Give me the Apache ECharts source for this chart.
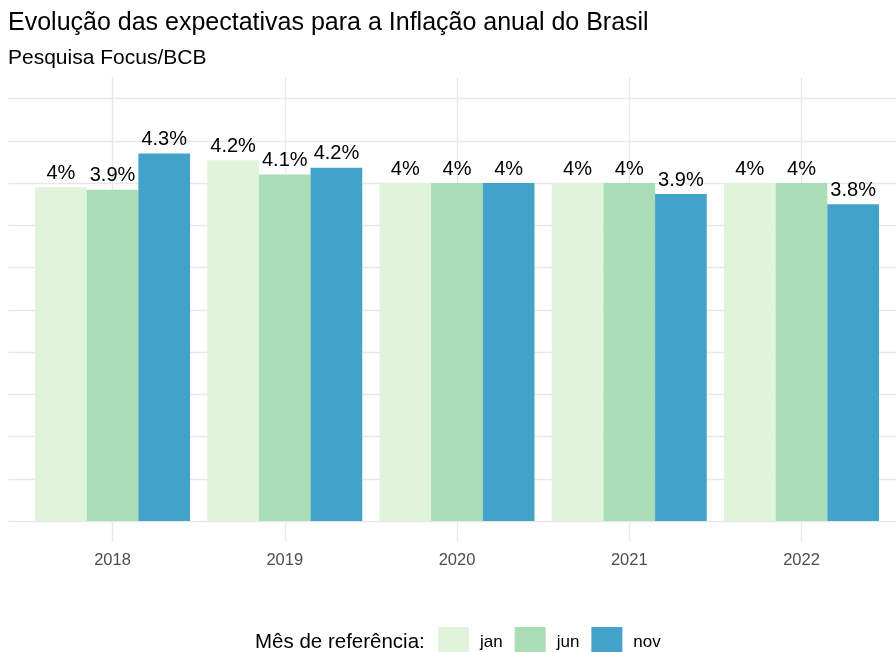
<!DOCTYPE html>
<html>
<head>
<meta charset="utf-8">
<script src="https://cdn.jsdelivr.net/npm/echarts@6/dist/echarts.min.js"></script>
<style>
  html, body { margin: 0; padding: 0; background: #fff; }
  #chart { width: 896px; height: 652px; }
</style>
</head>
<body>
<div id="chart"></div>
<script>
const years = ['2018', '2019', '2020', '2021', '2022'];
const janValues = [3.95, 4.27, 4.00, 4.00, 4.00];
const junValues = [3.92, 4.10, 4.00, 4.00, 4.00];
const novValues = [4.35, 4.18, 4.00, 3.87, 3.75];
const janLabels = ['4%', '4.2%', '4%', '4%', '4%'];
const junLabels = ['3.9%', '4.1%', '4%', '4%', '4%'];
const novLabels = ['4.3%', '4.2%', '4%', '3.9%', '3.8%'];

const font = '"Liberation Sans", Arial, sans-serif';
const gridColor = '#e8e8e8';

const chart = echarts.init(document.getElementById('chart'));

function barSeries(name, data, labels, color) {
	return {
		type: 'bar',
		name: name,
		data: data,
		xAxisIndex: 1,
		yAxisIndex: 1,
		barGap: '0%',
		barCategoryGap: '10%',
		itemStyle: { color: color },
		emphasis: { disabled: true },
		label: {
			show: true,
			position: 'top',
			distance: 4,
			fontFamily: font,
			fontSize: 20,
			color: '#000',
			formatter: p => labels[p.dataIndex]
		}
	};
}

chart.setOption({
	animation: false,
	title: {
		text: 'Evolução das expectativas para a Inflação anual do Brasil',
		subtext: 'Pesquisa Focus/BCB',
		left: 8,
		top: 11,
		padding: 0,
		itemGap: 12,
		textStyle: { fontFamily: font, fontSize: 25, fontWeight: 'normal', color: '#000' },
		subtextStyle: { fontFamily: font, fontSize: 21, color: '#000' }
	},
	graphic: [{
		type: 'text',
		left: 255,
		top: 632,
		style: {
			text: 'Mês de referência:',
			fontFamily: font,
			fontSize: 20.5,
			fill: '#000'
		}
	}],
	legend: {
		left: 438,
		top: 627,
		padding: 0,
		itemWidth: 31,
		itemHeight: 31,
		itemGap: 12,
		icon: 'rect',
		data: ['jan', 'jun', 'nov'],
		textStyle: { fontFamily: font, fontSize: 17, color: '#000', padding: [0, 0, 0, 6] }
	},
	grid: [
		{ left: 8.5, right: -7.5, top: 77.4, bottom: 131 },
		{ left: 26.4, right: 8.4, top: 77.4, bottom: 109.9 }
	],
	xAxis: [
		{ type: 'value', gridIndex: 0, show: false, min: 0, max: 1 },
		{
			type: 'category',
			gridIndex: 1,
			data: years,
			axisLine: { show: false, onZero: false },
			axisTick: {
				show: true,
				alignWithLabel: true,
				inside: true,
				length: 465,
				lineStyle: { color: gridColor, width: 1.4 }
			},
			axisLabel: { fontFamily: font, fontSize: 16.5, color: '#4d4d4d', margin: 10 },
			splitLine: { show: false }
		}
	],
	yAxis: [
		{
			type: 'value',
			gridIndex: 0,
			min: 0,
			max: 5.25,
			interval: 0.5,
			axisLine: { show: false },
			axisTick: { show: false },
			axisLabel: { show: false },
			splitLine: { show: true, showMaxLine: false, lineStyle: { color: gridColor, width: 1.4 } }
		},
		{
			type: 'value',
			gridIndex: 1,
			min: -0.25,
			max: 5.25,
			show: false,
			splitLine: { show: false }
		}
	],
	series: [
		barSeries('jan', janValues, janLabels, '#e0f3db'),
		barSeries('jun', junValues, junLabels, '#a8ddb5'),
		barSeries('nov', novValues, novLabels, '#43a2ca')
	]
});
</script>
</body>
</html>
